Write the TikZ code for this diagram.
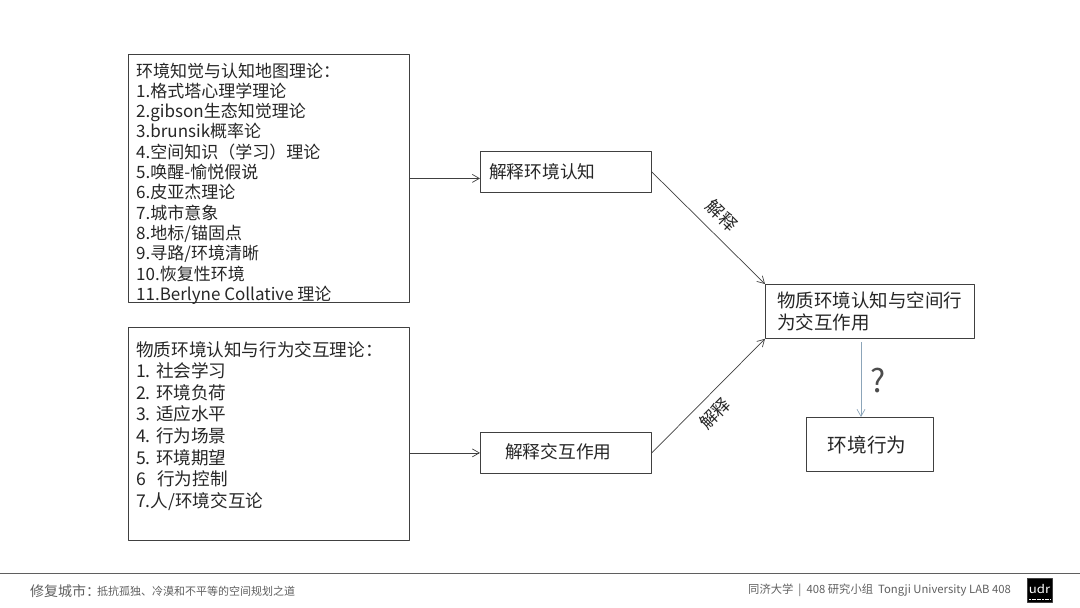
\documentclass[tikz,border=0pt]{standalone}
\usepackage{fontspec}
\setmainfont{Noto Sans CJK SC}
\usetikzlibrary{arrows.meta}
\definecolor{framegray}{RGB}{64,64,64}
\definecolor{footgray}{RGB}{95,95,95}
\definecolor{askblue}{RGB}{140,165,185}
\tikzset{
	framebox/.style={draw=framegray,line width=0.8pt,inner sep=0pt,anchor=north west},
	listtext/.style={anchor=north west,align=left,inner sep=0pt,text=black!85},
	boxtext/.style={anchor=west,inner sep=0pt,text=black!85,font=\fontsize{17.7pt}{20pt}\selectfont},
	slopetext/.style={sloped,font=\fontsize{17.5pt}{19pt}\selectfont,text=black!85},
	flow/.style={draw=framegray,line width=0.7pt,-{Straight Barb[length=7pt,width=8pt]}},
	foot/.style={anchor=west,inner sep=0pt,text=footgray}
}
\begin{document}
\begin{tikzpicture}[x=1pt,y=-1pt,line join=round,font=\fontsize{17pt}{20.3pt}\selectfont]
	\useasboundingbox (0,0) rectangle (1080,608);
	% left theory lists
	\node[framebox,minimum width=281pt,minimum height=248pt] (theory) at (128,54) {};
	\node[listtext] (theorylist) at (136,62.5) {环境知觉与认知地图理论：\\1.格式塔心理学理论\\2.gibson生态知觉理论\\3.brunsik概率论\\4.空间知识（学习）理论\\5.唤醒-愉悦假说\\6.皮亚杰理论\\7.城市意象\\8.地标/锚固点\\9.寻路/环境清晰\\10.恢复性环境\\11.Berlyne Collative 理论};
	\node[framebox,minimum width=281pt,minimum height=213pt] (exchange) at (128,327) {};
	\node[listtext,font=\fontsize{17.6pt}{21.6pt}\selectfont] (exchangelist) at (136,341) {物质环境认知与行为交互理论：\\1. 社会学习\\2. 环境负荷\\3. 适应水平\\4. 行为场景\\5. 环境期望\\6\hspace{0.65em}行为控制\\7.人/环境交互论};
	% middle boxes
	\node[framebox,minimum width=171pt,minimum height=41pt] (cognize) at (480,151) {};
	\node[boxtext] (cognizetext) at (489,171.5) {解释环境认知};
	\node[framebox,minimum width=171pt,minimum height=41pt] (interact) at (480,432) {};
	\node[boxtext] (interacttext) at (505,452) {解释交互作用};
	% right boxes
	\node[framebox,minimum width=209pt,minimum height=54pt] (result) at (765,284) {};
	\node[listtext,font=\fontsize{18.5pt}{21.8pt}\selectfont] (resulttext) at (777,292) {物质环境认知与空间行\\为交互作用};
	\node[framebox,minimum width=127pt,minimum height=54pt] (behave) at (806,417) {};
	\node[font=\fontsize{19.6pt}{22pt}\selectfont,text=black!85,inner sep=0pt] (behavetext) at (867,445) {环境行为};
	% connectors
	\draw[flow] (theory.east) -- (theory.east -| cognize.west);
	\draw[flow] (exchange.east |- interact.west) -- (interact.west);
	\draw[flow] (cognize.east) -- node[slopetext,anchor=south,inner sep=10pt,pos=0.505] (upword) {解释} (result.north west);
	\draw[flow] (interact.east) -- node[slopetext,anchor=north,inner sep=9pt,pos=0.45] (downword) {解释} (result.south west);
	\coordinate (asktop) at (861,342);
	\draw[flow,draw=askblue] (asktop) -- (asktop |- behave.north);
	\node[inner sep=0pt,font=\fontsize{32pt}{34pt}\selectfont,text=black!70] (ask) at (878,381) {?};
	% footer
	\coordinate (footleft) at (0,573.5);
	\coordinate (footright) at (1080,573.5);
	\draw[footgray,line width=1pt] (footleft) -- (footright);
	\node[foot,font=\fontsize{14pt}{16pt}\selectfont] (foottitle) at (30,591) {修复城市：};
	\node[foot,font=\fontsize{11pt}{14pt}\selectfont] (footsub) at (97,591) {抵抗孤独、冷漠和不平等的空间规划之道};
	\node[foot,font=\fontsize{11.3pt}{14pt}\selectfont] (footlab) at (748,590) {同济大学 ~|~ 408 研究小组 ~Tongji University LAB 408};
	\node[framebox,fill=black,minimum width=25pt,minimum height=24pt] (logo) at (1027,578) {};
	\node[inner sep=0pt,text=white,xscale=1.15,font=\fontsize{11.5pt}{14pt}\selectfont] (logotext) at (1039.5,588.5) {udr};
	\coordinate (stripleft) at (1029,599.5);
	\coordinate (stripright) at (1050,599.5);
	\draw[white,line width=1.2pt,dash pattern=on 2pt off 0.6pt] (stripleft) -- (stripright);
\end{tikzpicture}
\end{document}
